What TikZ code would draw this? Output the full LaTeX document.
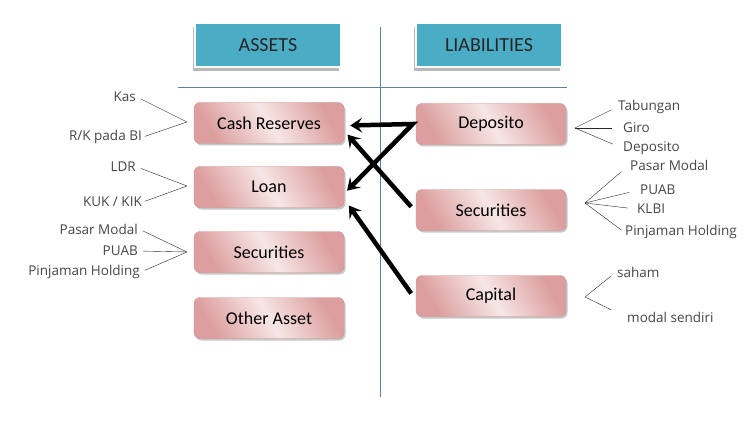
\documentclass[tikz,border=0pt]{standalone}
\usepackage{fontspec}
\setmainfont{Carlito}
\newfontfamily\labelfont{Open Sans}
\usetikzlibrary{arrows.meta,shadows}

\definecolor{headblue}{RGB}{75,172,198}
\definecolor{boxdark}{RGB}{220,158,158}
\definecolor{boxlight}{RGB}{247,230,230}
\definecolor{boxline}{RGB}{206,146,146}
\definecolor{divline}{RGB}{95,128,160}
\definecolor{labelgray}{RGB}{70,70,70}

\begin{document}
\begin{tikzpicture}[
    x=1pt, y=-1pt,
    head/.style={
        rectangle,
        draw=white,
        line width=2.5pt,
        fill=headblue,
        minimum width=146pt,
        minimum height=44pt,
        font=\fontsize{20}{22}\selectfont,
        text=black!85,
        drop shadow={shadow xshift=-2pt, shadow yshift=-4pt, fill=black!28, opacity=1}
    },
    box/.style={
        rectangle,
        draw=boxline,
        rounded corners=6pt,
        minimum width=150pt,
        minimum height=41pt,
        left color=boxdark,
        right color=boxdark,
        middle color=boxlight,
        shading angle=120,
        font=\fontsize{18}{20}\selectfont,
        drop shadow={shadow xshift=1.5pt, shadow yshift=-2pt, fill=black!22, opacity=1}
    },
    item/.style={
        font=\labelfont\fontsize{13.5}{15}\selectfont,
        text=labelgray,
        inner sep=1pt
    },
    fan/.style={
        thin,
        black!85
    },
    arrow/.style={
        -{Stealth[length=12pt,width=15pt,inset=5pt]},
        line width=4.5pt,
        line join=miter
    }
]
\useasboundingbox (0,0) rectangle (755,441);

% Divider
\coordinate (vtop) at (380,27);
\coordinate (vbot) at (380,397);
\coordinate (hleft) at (178,87);
\coordinate (hright) at (567,87);
\draw [divline] (vtop) -- (vbot);
\draw [divline] (hleft) -- (hright);

% Headers
\node [head] (assets) at (268,45) {ASSETS};
\node [head] (liab) at (489,45) {LIABILITIES};

% Asset boxes
\node [box] (cash) at (269,123) {Cash Reserves};
\node [box] (loan) at (269,187) {Loan};
\node [box] (asec) at (269,252) {Securities};
\node [box] (other) at (269,318) {Other Asset};

% Liability boxes
\node [box] (dep) at (491,124) {Deposito};
\node [box] (lsec) at (491,210) {Securities};
\node [box] (cap) at (491,296) {Capital};

% Asset items
\node [item, anchor=east] (kas) at (137,97) {Kas};
\node [item, anchor=east] (rkbi) at (143,137) {R/K pada BI};
\node [item, anchor=east] (ldr) at (137,167) {LDR};
\node [item, anchor=east] (kuk) at (143,202) {KUK / KIK};
\node [item, anchor=east] (apasar) at (139,229) {Pasar Modal};
\node [item, anchor=east] (apuab) at (139,251) {PUAB};
\node [item, anchor=east] (apinj) at (141,272) {Pinjaman Holding};

\coordinate (cashfan) at (187,122);
\coordinate (loanfan) at (187,186);
\coordinate (asecfan) at (187,252);

\draw [fan, shorten <=4pt] (kas.east) -- (cashfan);
\draw [fan, shorten <=2pt] (rkbi.east) -- (cashfan);
\draw [fan, shorten <=4pt] (ldr.east) -- (loanfan);
\draw [fan, shorten <=2pt] (kuk.east) -- (loanfan);
\draw [fan, shorten <=4pt] (apasar.east) -- (asecfan);
\draw [fan, shorten <=4pt] (apuab.east) -- (asecfan);
\draw [fan, shorten <=4pt] (apinj.east) -- (asecfan);

% Liability items
\node [item, anchor=west] (tab) at (617,107) {Tabungan};
\node [item, anchor=west] (giro) at (622,128) {Giro};
\node [item, anchor=west] (ldep) at (622,148) {Deposito};
\node [item, anchor=west] (lpasar) at (629,165) {Pasar Modal};
\node [item, anchor=west] (lpuab) at (639,190) {PUAB};
\node [item, anchor=west] (klbi) at (636,209) {KLBI};
\node [item, anchor=west] (lpinj) at (624,232) {Pinjaman Holding};
\node [item, anchor=west] (saham) at (616,272) {saham};
\node [item, anchor=west] (modal) at (626,317) {modal sendiri};

\coordinate (depfan) at (575,128);
\coordinate (lsecfan) at (585,203);
\coordinate (capfan) at (585,297);

\draw [fan, shorten >=6pt] (depfan) -- (tab.west);
\draw [fan, shorten >=10pt] (depfan) -- (giro.west);
\draw [fan, shorten >=10pt] (depfan) -- (ldep.west);
\draw [fan, shorten >=10pt] (lsecfan) -- (lpasar.west);
\draw [fan, shorten >=10pt] (lsecfan) -- (lpuab.west);
\draw [fan, shorten >=8pt] (lsecfan) -- (klbi.west);
\draw [fan, shorten >=3pt] (lsecfan) -- (lpinj.west);
\draw [fan, shorten >=6pt] (capfan) -- (saham.west);
\draw [fan, shorten >=16pt] (capfan) -- (modal.west);

% Flows
\draw [arrow, {Stealth[length=12pt,width=15pt,inset=5pt]}-{Stealth[length=12pt,width=15pt,inset=5pt]}, shorten <=6pt, shorten >=4pt]
    (cash.-2) -- ([xshift=-3pt]dep.west) -- (loan.-5);
\draw [arrow, shorten <=7pt, shorten >=5pt] ([yshift=-2pt]lsec.west) -- (cash.-6);
\draw [arrow, shorten <=8pt, shorten >=8pt] ([yshift=-4pt]cap.west) -- (loan.-9);

\end{tikzpicture}
\end{document}
